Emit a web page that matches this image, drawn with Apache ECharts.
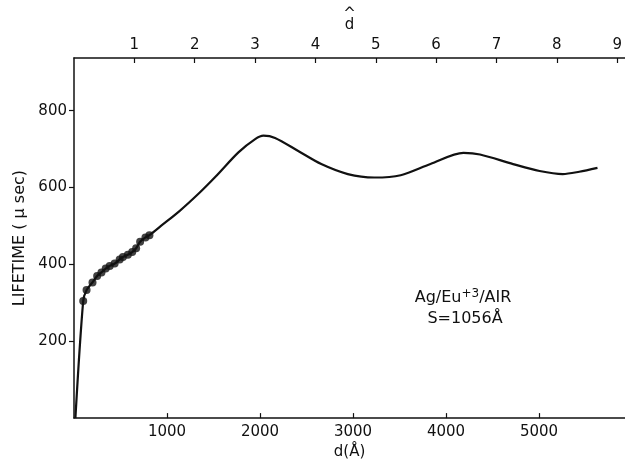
<!DOCTYPE html>
<html>
<head>
<meta charset="utf-8">
<script src="https://cdn.jsdelivr.net/npm/echarts@6/dist/echarts.min.js"></script>
<style>html,body{margin:0;padding:0;background:#fff}#c{width:625px;height:465px}</style>
</head>
<body>
<div id="c"></div>
<script>
// d (Å) and lifetime (µsec) along the smooth curve
const curveD = [15, 99, 135, 199, 249, 295, 341, 384, 437, 491, 526, 579, 626, 668, 711, 768, 811, 935, 1131, 1344, 1521, 1771, 1948, 2037, 2162, 2411, 2659, 2944, 3229, 3513, 3833, 4188, 4366, 4722, 5006, 5255, 5433, 5629];
const curveL = [0, 305, 333, 353, 370, 379, 389, 396, 402, 413, 419, 425, 432, 442, 459, 470, 476, 500, 538, 585, 628, 692, 726, 735, 729, 695, 661, 635, 626, 632, 661, 690, 686, 661, 643, 635, 641, 651];
// measured points (filled circles)
const dotD = [99, 135, 199, 249, 295, 341, 384, 437, 491, 526, 579, 626, 668, 711, 768, 811];
const dotL = [305, 333, 353, 370, 379, 389, 396, 402, 413, 419, 425, 432, 442, 459, 470, 476];
const xTicks = [1000, 2000, 3000, 4000, 5000];
const yTicks = [200, 400, 600, 800];
const topTicks = [1, 2, 3, 4, 5, 6, 7, 8, 9];

const X_MAX = 5925, Y_MAX = 937, TOP_MAX = 9.13;
const font = 'DejaVu Sans';
const ink = '#111';
const plain = v => String(v);

const chart = echarts.init(document.getElementById('c'), null, {renderer: 'canvas'});
chart.setOption({
  animation: false,
  backgroundColor: '#fff',
  grid: {left: 74, right: 0, top: 58, bottom: 40, containLabel: false},
  xAxis: [{
    type: 'value', position: 'bottom', min: 0, max: X_MAX,
    name: 'd(Å)', nameLocation: 'middle', nameGap: 23,
    nameTextStyle: {fontFamily: font, fontSize: 15, color: ink},
    axisLine: {show: true, lineStyle: {color: ink, width: 1.5}},
    axisTick: {show: true, inside: true, length: 5, customValues: xTicks, lineStyle: {color: ink, width: 1.2}},
    axisLabel: {margin: 7, fontFamily: font, fontSize: 15, color: ink, customValues: xTicks, formatter: plain},
    splitLine: {show: false}
  }, {
    type: 'value', position: 'top', min: 0, max: TOP_MAX,
    name: '^\nd', nameLocation: 'middle', nameGap: 22,
    nameTextStyle: {fontFamily: font, fontSize: 15, lineHeight: 11, color: ink},
    axisLine: {show: true, lineStyle: {color: ink, width: 1.5}},
    axisTick: {show: true, inside: true, length: 5, customValues: topTicks, lineStyle: {color: ink, width: 1.2}},
    axisLabel: {margin: 5, fontFamily: font, fontSize: 15, color: ink, customValues: topTicks, formatter: plain},
    splitLine: {show: false}
  }],
  yAxis: [{
    type: 'value', min: 0, max: Y_MAX,
    name: 'LIFETIME ( μ sec)', nameLocation: 'middle', nameGap: 46,
    nameTextStyle: {fontFamily: font, fontSize: 16, color: ink},
    axisLine: {show: true, lineStyle: {color: ink, width: 1.5}},
    axisTick: {show: true, inside: false, length: 5, customValues: yTicks, lineStyle: {color: ink, width: 1.2}},
    axisLabel: {margin: 7, fontFamily: font, fontSize: 15, color: ink, customValues: yTicks, formatter: plain},
    splitLine: {show: false}
  }],
  series: [{
    type: 'line', xAxisIndex: 0, yAxisIndex: 0,
    data: curveD.map((d, i) => [d, curveL[i]]),
    smooth: 0.3, showSymbol: false,
    lineStyle: {color: ink, width: 2.2}
  }, {
    type: 'scatter', xAxisIndex: 0, yAxisIndex: 0,
    data: dotD.map((d, i) => [d, dotL[i]]),
    symbol: 'circle', symbolSize: 8,
    itemStyle: {color: ink}
  }],
  graphic: [{
    type: 'text', x: 463, y: 298,
    style: {
      text: '{a|Ag/Eu}{s|+3}{a|/AIR}',
      align: 'center', verticalAlign: 'middle',
      rich: {
        a: {fontFamily: font, fontSize: 16, fill: ink},
        s: {fontFamily: font, fontSize: 12, fill: ink, padding: [0, 0, 9, 0]}
      }
    }
  }, {
    type: 'text', x: 465, y: 319,
    style: {text: 'S=1056Å', align: 'center', verticalAlign: 'middle', fontFamily: font, fontSize: 16, fill: ink}
  }]
});
</script>
</body>
</html>
